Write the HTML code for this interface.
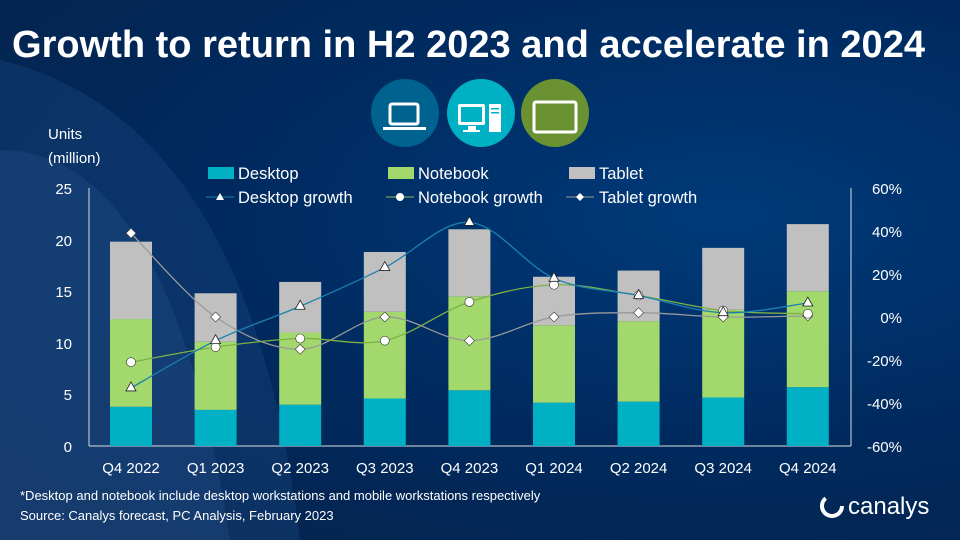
<!DOCTYPE html>
<html><head><meta charset="utf-8"><style>
body{margin:0;width:960px;height:540px;overflow:hidden;font-family:"Liberation Sans",sans-serif;}
#c{position:relative;width:960px;height:540px;background:radial-gradient(ellipse at 75% 40%,#003a7a 0%,#002a5e 50%,#06224a 100%);}
</style></head><body><div id="c">
<svg width="960" height="540" style="position:absolute;left:0;top:0" font-family="Liberation Sans, sans-serif">
<path d="M0 60 Q250 120 300 540 L0 540 Z" fill="#1e4a85" opacity="0.35"/>
<path d="M0 150 Q170 150 230 540 L0 540 Z" fill="#2b5790" opacity="0.3"/>
<text x="12" y="57" font-size="38" font-weight="bold" fill="#fff" textLength="913" lengthAdjust="spacingAndGlyphs">Growth to return in H2 2023 and accelerate in 2024</text>
<circle cx="405" cy="113" r="34" fill="#00628f"/>
<circle cx="481" cy="113" r="34" fill="#00b0c4"/>
<circle cx="555" cy="113" r="34" fill="#6a9232"/>
<rect x="390" y="104" width="28" height="20" rx="2" fill="none" stroke="#fff" stroke-width="3"/><rect x="383" y="127" width="43" height="3" fill="#fff"/>
<rect x="458" y="104" width="27" height="21" rx="2" fill="#fff"/><rect x="461" y="107" width="21" height="15" fill="#00b0c4"/><rect x="468" y="126" width="8" height="4" fill="#fff"/><rect x="463" y="130" width="17" height="2" fill="#fff"/><rect x="489" y="104" width="12" height="28" fill="#fff"/><rect x="491" y="108" width="8" height="1.5" fill="#00b0c4"/><rect x="491" y="112" width="8" height="1.5" fill="#00b0c4"/>
<rect x="534" y="102" width="42" height="30" rx="2" fill="none" stroke="#fff" stroke-width="3"/>
<text x="48" y="139" font-size="15" fill="#fff">Units</text><text x="48" y="163" font-size="15" fill="#fff">(million)</text>
<g font-size="16.5" fill="#fff">
<rect x="208" y="167" width="26" height="12" fill="#00b0c4"/><text x="238" y="179">Desktop</text>
<rect x="388" y="167" width="26" height="12" fill="#a2d86c"/><text x="418" y="179">Notebook</text>
<rect x="569" y="167" width="26" height="12" fill="#c0c0c0"/><text x="599" y="179">Tablet</text>
<line x1="206" y1="197" x2="234" y2="197" stroke="#1b7fb0"/><path d="M220 193 l4 7 h-8z" fill="#fff"/><text x="238" y="203">Desktop growth</text>
<line x1="386" y1="197" x2="414" y2="197" stroke="#8cc050"/><circle cx="400" cy="197" r="4" fill="#fff"/><text x="418" y="203">Notebook growth</text>
<line x1="566" y1="197" x2="594" y2="197" stroke="#999"/><path d="M580 193 l4 4 -4 4 -4 -4z" fill="#fff"/><text x="599" y="203">Tablet growth</text>
</g>
<g font-size="15" fill="#fff" text-anchor="end">
<text x="72" y="194">25</text><text x="72" y="246">20</text><text x="72" y="297">15</text><text x="72" y="349">10</text><text x="72" y="400">5</text><text x="72" y="452">0</text>
</g>
<g font-size="15" fill="#fff" text-anchor="end">
<text x="902" y="194">60%</text><text x="902" y="237">40%</text><text x="902" y="280">20%</text><text x="902" y="323">0%</text><text x="902" y="366">-20%</text><text x="902" y="409">-40%</text><text x="902" y="452">-60%</text>
</g>
<line x1="89" y1="188" x2="89" y2="446" stroke="#ddd"/><line x1="851" y1="188" x2="851" y2="446" stroke="#ddd"/><line x1="89" y1="446" x2="851" y2="446" stroke="#ddd"/>
<g id="bars"></g><g id="lines"></g>
<g font-size="15" fill="#fff" text-anchor="middle" id="xl"></g>
<text x="20" y="500" font-size="13" fill="#fff">*Desktop and notebook include desktop workstations and mobile workstations respectively</text>
<text x="20" y="520" font-size="13" fill="#fff">Source: Canalys forecast, PC Analysis, February 2023</text>
<circle cx="832" cy="506" r="10" fill="none" stroke="#fff" stroke-width="4" stroke-dasharray="40 23"/>
<text x="848" y="514" font-size="24" fill="#fff">canalys</text>
</svg>
<script>
var ns="http://www.w3.org/2000/svg",cx=[],labels=["Q4 2022","Q1 2023","Q2 2023","Q3 2023","Q4 2023","Q1 2024","Q2 2024","Q3 2024","Q4 2024"];
var d=[3.8,3.5,4.0,4.6,5.4,4.2,4.3,4.7,5.7],n=[12.3,10.1,11.0,13.0,14.5,11.7,12.1,13.2,15.0],t=[19.8,14.8,15.9,18.8,21.0,16.4,17.0,19.2,21.5];
var dg=[-33,-11,5,23,44,18,10,2,6.5],ng=[-21,-14,-10,-11,7,15,10,3,1.5],tg=[39,0,-15,0,-11,0,2,0,0.5];
function Y(v){return 446-v*10.32}function P(v){return 317-v*2.15}
function el(tag,a,p){var e=document.createElementNS(ns,tag);for(var k in a)e.setAttribute(k,a[k]);p.appendChild(e);return e}
var B=document.getElementById("bars"),L=document.getElementById("lines"),X=document.getElementById("xl");
for(var i=0;i<9;i++){var x=131+i*84.6;cx.push(x);
el("rect",{x:x-21,y:Y(d[i]),width:42,height:d[i]*10.32,fill:"#00b0c4"},B);
el("rect",{x:x-21,y:Y(n[i]),width:42,height:(n[i]-d[i])*10.32,fill:"#a2d86c"},B);
el("rect",{x:x-21,y:Y(t[i]),width:42,height:(t[i]-n[i])*10.32,fill:"#c0c0c0"},B);
el("text",{x:x,y:473},X).textContent=labels[i];}
function path(v,col){var p=v.map(function(a,i){return[cx[i],P(a)]});var s="M"+p[0];
for(var i=0;i<p.length-1;i++){var p0=p[i-1]||p[i],p1=p[i],p2=p[i+1],p3=p[i+2]||p2;
s+=" C"+(p1[0]+(p2[0]-p0[0])/6)+","+(p1[1]+(p2[1]-p0[1])/6)+" "+(p2[0]-(p3[0]-p1[0])/6)+","+(p2[1]-(p3[1]-p1[1])/6)+" "+p2;}
el("path",{d:s,fill:"none",stroke:col,"stroke-width":1.3},L);return p}
var a=path(tg,"#999"),b=path(ng,"#7fb045"),c=path(dg,"#1b7fb0");
a.forEach(function(p){el("path",{d:"M"+p[0]+","+(p[1]-5)+" l5,5 -5,5 -5,-5z",fill:"#fff",stroke:"#333","stroke-width":0.6},L)});
b.forEach(function(p){el("circle",{cx:p[0],cy:p[1],r:4.5,fill:"#fff",stroke:"#333","stroke-width":0.6},L)});
c.forEach(function(p){el("path",{d:"M"+p[0]+","+(p[1]-6)+" l5,9 h-10z",fill:"#fff",stroke:"#222","stroke-width":0.8},L)});
</script>
</div></body></html>
